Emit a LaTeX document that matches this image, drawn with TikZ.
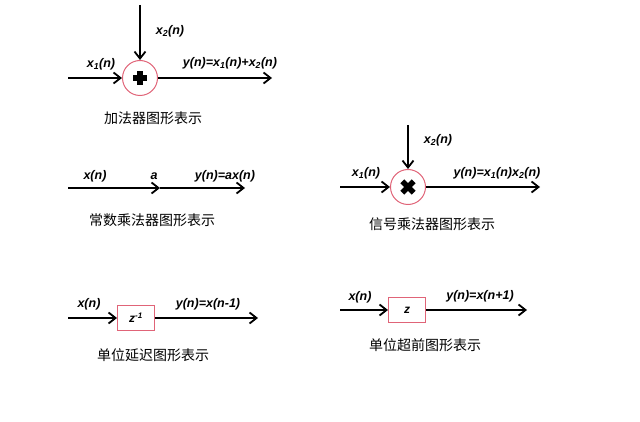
\documentclass[tikz,border=0pt]{standalone}
\usepackage{fontspec}
\setmainfont{Liberation Sans}
\newfontfamily\cjk{Noto Sans CJK SC}
\usetikzlibrary{arrows.meta}
\definecolor{pinkc}{HTML}{E06478}
\begin{document}
\begin{tikzpicture}[x=1pt,y=-1pt,
 sig/.style={draw=black,line width=2pt,-{Straight Barb[length=7pt,width=11pt,line width=1.8pt]}},
 lab/.style={font=\fontsize{12.5}{14}\selectfont\bfseries\itshape,inner sep=0pt},
 captxt/.style={font=\cjk\fontsize{14}{16}\selectfont,inner sep=0pt},
 op/.style={circle,draw=pinkc,line width=1pt,minimum size=35pt,inner sep=0pt},
 blk/.style={draw=pinkc,line width=1pt,minimum width=37pt,minimum height=25pt,inner sep=0pt,font=\fontsize{12}{14}\selectfont\bfseries\itshape}]
\useasboundingbox (0,0) rectangle (640,422);
% adder
\node[op] (add) at (140,78) {};
\fill (add.center) ++(-7,-2.6) rectangle ++(14,5.2);
\fill (add.center) ++(-2.6,-7) rectangle ++(5.2,14);
\coordinate (a1) at (68,78); \coordinate (a2) at (140,5); \coordinate (a3) at (272,78);
\draw[sig] (a1) -- (add);
\draw[sig,line width=1.5pt] (a2) -- (add);
\draw[sig] (add) -- (a3);
\node[lab] (la1) at (101,64) {x\textsubscript{1}(n)};
\node[lab] (la2) at (170,31) {x\textsubscript{2}(n)};
\node[lab] (la3) at (230,63) {y(n)=x\textsubscript{1}(n)+x\textsubscript{2}(n)};
\node[captxt] (ca) at (153,118) {加法器图形表示};
% constant multiplier
\coordinate (c1) at (68,188); \coordinate (c2) at (160,188); \coordinate (c3) at (245,188);
\draw[sig] (c1) -- (c2);
\draw[sig] (c2) -- (c3);
\node[lab] (lc1) at (95,176) {x(n)};
\node[lab] (lc2) at (154,176) {a};
\node[lab] (lc3) at (225,176) {y(n)=ax(n)};
\node[captxt] (cc) at (152,220) {常数乘法器图形表示};
% signal multiplier
\node[op] (mul) at (408,187) {};
\begin{scope}[shift={(mul.center)},rotate=45]
\fill (-8,-2.7) rectangle (8,2.7);
\fill (-2.7,-8) rectangle (2.7,8);
\end{scope}
\coordinate (m1) at (340,187); \coordinate (m2) at (408,125); \coordinate (m3) at (540,187);
\draw[sig] (m1) -- (mul);
\draw[sig,line width=1.5pt] (m2) -- (mul);
\draw[sig] (mul) -- (m3);
\node[lab] (lm1) at (366,173) {x\textsubscript{1}(n)};
\node[lab] (lm2) at (438,140) {x\textsubscript{2}(n)};
\node[lab] (lm3) at (497,173) {y(n)=x\textsubscript{1}(n)x\textsubscript{2}(n)};
\node[captxt] (cm) at (432,224) {信号乘法器图形表示};
% delay
\node[blk] (d) at (136,318) {z\textsuperscript{-1}};
\coordinate (d1) at (68,318); \coordinate (d2) at (258,318);
\draw[sig] (d1) -- (d);
\draw[sig] (d) -- (d2);
\node[lab] (ld1) at (89,304) {x(n)};
\node[lab] (ld2) at (208,304) {y(n)=x(n-1)};
\node[captxt] (cd) at (153,355) {单位延迟图形表示};
% advance
\node[blk] (v) at (407,310) {z};
\coordinate (v1) at (340,310); \coordinate (v2) at (527,310);
\draw[sig] (v1) -- (v);
\draw[sig] (v) -- (v2);
\node[lab] (lv1) at (360,297) {x(n)};
\node[lab] (lv2) at (480,296) {y(n)=x(n+1)};
\node[captxt] (cv) at (425,345) {单位超前图形表示};
\end{tikzpicture}
\end{document}
